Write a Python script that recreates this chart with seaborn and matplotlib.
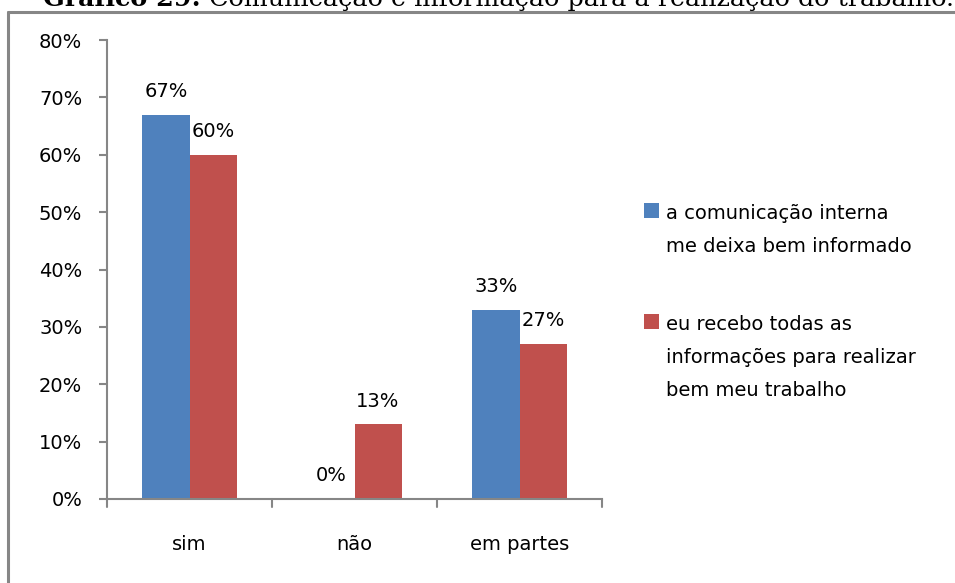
import matplotlib
matplotlib.use("Agg")
import matplotlib.pyplot as plt
import seaborn as sns
import pandas as pd
from matplotlib.patches import Rectangle
from matplotlib.lines import Line2D

categories = ["sim", "não", "em partes"]
series_names = ["a comunicação interna\nme deixa bem informado",
                "eu recebo todas as\ninformações para realizar\nbem meu trabalho"]
comunicacao = [67, 0, 33]
informacoes = [60, 13, 27]
yticks = [0, 10, 20, 30, 40, 50, 60, 70, 80]
colors = ["#4F81BD", "#C0504D"]
title_bold = "Gráfico 29:"
title_rest = "Comunicação e informação para a realização do trabalho."

df = pd.DataFrame({
    "cat": categories * 2,
    "serie": [series_names[0]] * 3 + [series_names[1]] * 3,
    "val": comunicacao + informacoes,
})

sns.set_theme(style="white")
plt.rcParams['font.family'] = ['DejaVu Sans']
plt.rcParams['text.color'] = 'black'
plt.rcParams['xtick.labelcolor'] = 'black'
plt.rcParams['ytick.labelcolor'] = 'black'
FS = 14

W, H = 955, 583
fig = plt.figure(figsize=(W / 100, H / 100), dpi=100)
ax = fig.add_axes([107 / W, 1 - 499 / H, (602 - 107) / W, (499 - 40) / H])

sns.barplot(data=df, x="cat", y="val", hue="serie", palette=colors,
            width=0.57, saturation=1, ax=ax, legend=False, edgecolor="none")

ax.set_ylim(0, 80)
ax.set_xlim(-0.5, 2.5)
ax.set_yticks(yticks)
ax.set_yticklabels([f"{v}%" for v in yticks], fontsize=FS)
ax.set_xlabel("")
ax.set_ylabel("")
ax.tick_params(axis="x", length=0, labelsize=FS, pad=26, labelcolor="black")
ax.tick_params(axis="y", length=5.8, width=1.5, color="#868686", labelsize=FS, pad=12,
               left=True, labelcolor="black")
for t in [-0.5, 0.5, 1.5, 2.5]:
    ax.plot([t, t], [0, -1.4], color="#868686", lw=1.5, clip_on=False)
for s in ["top", "right"]:
    ax.spines[s].set_visible(False)
for s in ["left", "bottom"]:
    ax.spines[s].set_color("#868686")
    ax.spines[s].set_linewidth(1.5)

for cont in ax.containers:
    labels = [f"{int(round(b.get_height()))}%" for b in cont]
    ax.bar_label(cont, labels=labels, padding=10, fontsize=FS, color="black")

# legend drawn Excel-style: marker aligned with the first text line
leg_entries = [(203, 219), (314, 330)]  # (square top, first baseline) in px
for (sq_top, base), name, c in zip(leg_entries, series_names, colors):
    fig.add_artist(Rectangle((644 / W, 1 - (sq_top + 15) / H), 15 / W, 15 / H,
                             transform=fig.transFigure, facecolor=c, edgecolor="none"))
    for i, line in enumerate(name.split("\n")):
        fig.text(666 / W, 1 - (base + 33 * i) / H, line, fontsize=FS,
                 ha="left", va="baseline", color="black")

# outer chart border (gray)
fig.add_artist(Line2D([8 / W, 8 / W], [0, 1 - 11.5 / H], transform=fig.transFigure, color="#868686", lw=2.2))
fig.add_artist(Line2D([8 / W, 1], [1 - 11.5 / H, 1 - 11.5 / H], transform=fig.transFigure, color="#868686", lw=2.2))

# clipped document caption above the chart
renderer = fig.canvas.get_renderer()
tsize = 20
x0, target = 43, 907
base_y = 1 - 6 / H
t1 = fig.text(x0 / W, base_y, title_bold, family="DejaVu Serif", weight="bold",
              fontsize=tsize, ha="left", va="baseline", color="black")
t2 = fig.text(0, base_y, " " + title_rest, family="DejaVu Serif",
              fontsize=tsize, ha="left", va="baseline", color="black")
for _ in range(3):
    w1 = t1.get_window_extent(renderer).width
    t2.set_x((x0 + w1) / W)
    w2 = t2.get_window_extent(renderer).width
    scale = target / (w1 + w2)
    tsize *= scale
    t1.set_fontsize(tsize)
    t2.set_fontsize(tsize)
w1 = t1.get_window_extent(renderer).width
t2.set_x((x0 + w1) / W)

fig.savefig("out.png", dpi=100, facecolor="white")
